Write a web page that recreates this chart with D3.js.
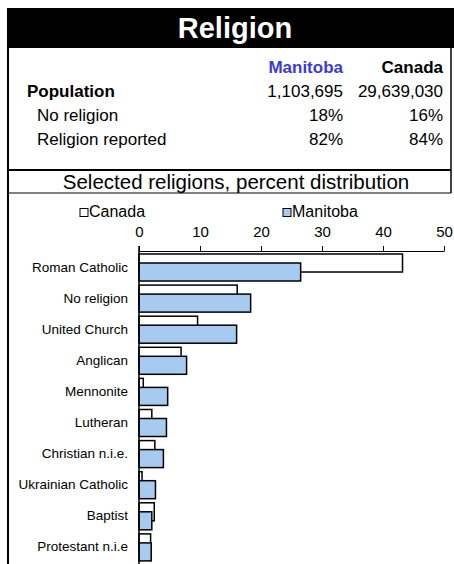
<!DOCTYPE html>
<html>
<head>
<meta charset="utf-8">
<script src="https://cdn.jsdelivr.net/npm/d3@7"></script>
<style>
  body { margin: 0; background: #fff; }
  text { font-family: "Liberation Sans", Arial, sans-serif; }
</style>
</head>
<body>
<div id="chart"></div>
<script>
// Summary table
var tableCols = ["Manitoba", "Canada"];
var tableRows = ["Population", "No religion", "Religion reported"];
var tableValues = [["1,103,695", "29,639,030"], ["18%", "16%"], ["82%", "84%"]];

// Selected religions, percent distribution
var religions = ["Roman Catholic", "No religion", "United Church", "Anglican", "Mennonite",
                 "Lutheran", "Christian n.i.e.", "Ukrainian Catholic", "Baptist", "Protestant n.i.e"];
var canada   = [43.2, 16.1, 9.6, 6.9, 0.7, 2.1, 2.6, 0.5, 2.5, 1.9];
var manitoba = [26.5, 18.3, 16.0, 7.8, 4.7, 4.5, 4.0, 2.7, 2.1, 2.0];
var xTicks = [0, 10, 20, 30, 40, 50];

var W = 454, H = 564;
var blue = "#a6caf0";

var svg = d3.select("#chart").append("svg")
    .attr("width", W)
    .attr("height", H);

// Title band
svg.append("rect")
    .attr("x", 7).attr("y", 8)
    .attr("width", W - 7).attr("height", 40)
    .attr("fill", "#000");
svg.append("text")
    .attr("x", 235).attr("y", 38)
    .attr("text-anchor", "middle")
    .attr("font-size", 29).attr("font-weight", "bold")
    .attr("fill", "#fff")
    .text("Religion");

// Box lines
svg.append("line").attr("x1", 8).attr("x2", 8).attr("y1", 48).attr("y2", H)
    .attr("stroke", "#000").attr("stroke-width", 2);
svg.append("line").attr("x1", 451).attr("x2", 451).attr("y1", 48).attr("y2", 193)
    .attr("stroke", "#000").attr("stroke-width", 1.5);
svg.append("line").attr("x1", 8).attr("x2", 451).attr("y1", 170).attr("y2", 170)
    .attr("stroke", "#000").attr("stroke-width", 2);
svg.append("line").attr("x1", 8).attr("x2", 451).attr("y1", 193).attr("y2", 193)
    .attr("stroke", "#000").attr("stroke-width", 1);

// Table
var colX = [343, 443];
svg.selectAll(".colhead")
    .data(tableCols)
    .enter().append("text")
    .attr("class", "colhead")
    .attr("x", function(d, i) { return colX[i]; })
    .attr("y", 73)
    .attr("text-anchor", "end")
    .attr("font-size", 17).attr("font-weight", "bold")
    .attr("fill", function(d, i) { return i == 0 ? "#3b3bd6" : "#000"; })
    .text(function(d) { return d; });

tableRows.forEach(function(r, i) {
    var yy = 97 + i * 24;
    svg.append("text")
        .attr("x", i == 0 ? 27 : 37).attr("y", yy)
        .attr("font-size", 17).attr("font-weight", i == 0 ? "bold" : "normal")
        .text(r);
    tableValues[i].forEach(function(v, j) {
        svg.append("text")
            .attr("x", colX[j]).attr("y", yy)
            .attr("text-anchor", "end")
            .attr("font-size", 17)
            .text(v);
    });
});

svg.append("text")
    .attr("x", 236).attr("y", 189)
    .attr("text-anchor", "middle")
    .attr("font-size", 20.5)
    .text("Selected religions, percent distribution");

// Chart
var x = d3.scaleLinear().domain([0, 50]).range([139, 444]);
var y = d3.scaleBand().domain(religions).range([251, 251 + 31.1 * religions.length]);

// Legend
var legend = [["Canada", "#fff", 80], ["Manitoba", blue, 283]];
legend.forEach(function(l) {
    svg.append("rect")
        .attr("x", l[2]).attr("y", 208.5)
        .attr("width", 8).attr("height", 8)
        .attr("fill", l[1]).attr("stroke", "#000").attr("stroke-width", 1);
    svg.append("text")
        .attr("x", l[2] + 9).attr("y", 217)
        .attr("font-size", 16)
        .text(l[0]);
});

// Canada bars (behind)
svg.selectAll(".can")
    .data(religions)
    .enter().append("rect")
    .attr("class", "can")
    .attr("x", x(0))
    .attr("y", function(d) { return y(d) + 3; })
    .attr("width", function(d, i) { return x(canada[i]) - x(0); })
    .attr("height", 18)
    .attr("fill", "#fff")
    .attr("stroke", "#000").attr("stroke-width", 1.5);

// Manitoba bars
svg.selectAll(".man")
    .data(religions)
    .enter().append("rect")
    .attr("class", "man")
    .attr("x", x(0))
    .attr("y", function(d) { return y(d) + 12; })
    .attr("width", function(d, i) { return x(manitoba[i]) - x(0); })
    .attr("height", 18)
    .attr("fill", blue)
    .attr("stroke", "#000").attr("stroke-width", 1.5);

// Top axis
var xAxis = svg.append("g")
    .attr("transform", "translate(0,251)")
    .call(d3.axisTop(x).tickValues(xTicks).tickSize(5).tickSizeOuter(0).tickPadding(9));
xAxis.select(".domain").attr("stroke", "#000").attr("stroke-width", 1);
xAxis.selectAll("text").attr("font-size", 15).attr("font-family", "Liberation Sans, Arial, sans-serif").attr("fill", "#000");

// Category axis line and labels
svg.append("line")
    .attr("x1", x(0)).attr("x2", x(0))
    .attr("y1", 246).attr("y2", H)
    .attr("stroke", "#000").attr("stroke-width", 1.5);

svg.selectAll(".cat")
    .data(religions)
    .enter().append("text")
    .attr("class", "cat")
    .attr("x", 128)
    .attr("y", function(d) { return y(d) + 20.5; })
    .attr("text-anchor", "end")
    .attr("font-size", 13.5)
    .text(function(d) { return d; });
</script>
</body>
</html>
